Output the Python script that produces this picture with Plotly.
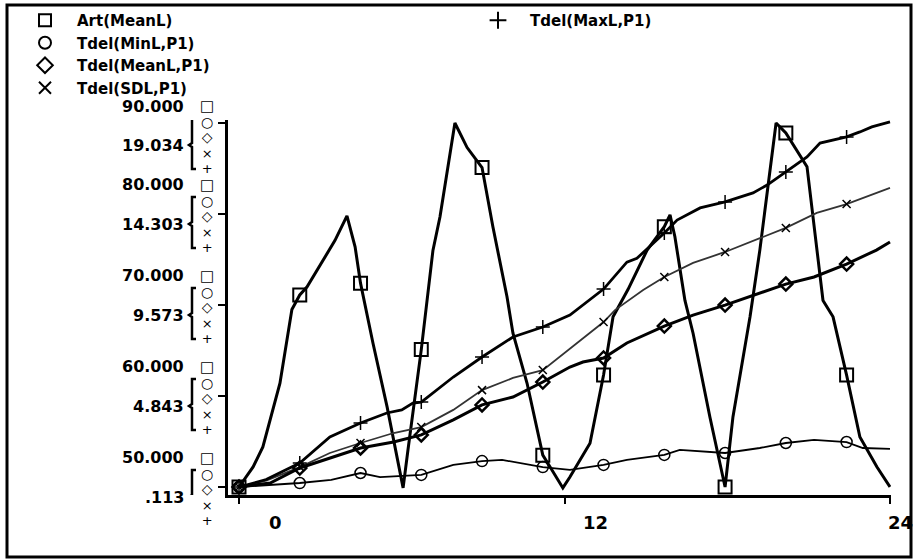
import plotly.graph_objects as go

# ---------------- data ----------------
# Art(MeanL) - left scale 50..90
ART_X = [0, 0.52, 0.88, 1.51, 1.95, 2.24, 2.51, 3.54, 3.98, 4.28, 4.48, 4.94, 5.46, 6.05, 6.23, 6.72,
         7.15, 7.41, 7.96, 8.41, 8.96, 9.36, 9.88, 10.1, 10.62, 11.2, 11.47, 11.94, 12.2, 12.94, 13.44,
         13.57, 13.79, 14.34, 15.04, 15.68, 15.89, 16.07, 16.44, 16.74, 17.36, 17.92, 18.21, 18.84, 19.2,
         19.8, 20.16, 20.94, 21.16, 21.53, 21.9, 22.4, 22.89, 23.52, 24.0]
ART_Y = [50.0, 52.2, 54.4, 61.4, 69.5, 71.1, 72.0, 77.1, 79.8, 76.4, 72.4, 65.8, 58.8, 49.9, 54.1, 65.1,
         76.0, 79.7, 90.0, 87.3, 85.1, 78.6, 70.9, 66.9, 61.4, 53.5, 52.2, 49.9, 51.1, 54.8, 62.3,
         64.7, 68.7, 71.7, 76.0, 78.6, 79.9, 77.5, 70.5, 66.9, 57.7, 50.0, 57.7, 68.7, 76.0,
         90.0, 88.9, 85.2, 79.7, 70.5, 68.7, 62.3, 55.5, 52.2, 50.0]

# Tdel series - bracketed scale .113..19.034
MIN_X = [0, 1.0, 2.24, 3.4, 4.48, 5.2, 6.72, 7.9, 8.96, 9.7, 11.2, 12.2, 13.44, 14.3, 15.68, 16.25,
         17.92, 19.2, 20.16, 21.2, 22.4, 23.0, 24.0]
MIN_Y = [0.113, 0.2, 0.32, 0.48, 0.84, 0.63, 0.74, 1.26, 1.46, 1.52, 1.15, 1.0, 1.26, 1.52, 1.78, 2.04,
         1.88, 2.14, 2.40, 2.56, 2.45, 2.14, 2.09]

MEAN_X = [0, 1.15, 2.24, 3.4, 4.48, 5.7, 6.72, 7.9, 8.96, 10.1, 11.2, 12.2, 12.68, 13.44, 14.3, 15.68,
          16.74, 17.92, 19.2, 20.16, 21.2, 22.4, 23.5, 24.0]
MEAN_Y = [0.113, 0.32, 1.10, 1.62, 2.14, 2.45, 2.82, 3.60, 4.38, 4.79, 5.57, 6.35, 6.61, 6.82, 7.60, 8.48,
          9.05, 9.57, 10.2, 10.66, 11.03, 11.7, 12.43, 12.85]

SDL_X = [0, 1.0, 2.24, 3.35, 4.48, 5.7, 6.72, 7.9, 8.96, 10.1, 11.2, 11.83, 12.57, 13.44, 13.86, 14.9,
         15.68, 16.74, 17.92, 19.2, 20.16, 21.3, 22.4, 24.0]
SDL_Y = [0.113, 0.45, 1.15, 1.88, 2.40, 2.92, 3.23, 4.12, 5.15, 5.78, 6.19, 6.9, 7.7, 8.69, 9.31, 10.35,
         11.03, 11.76, 12.33, 13.06, 13.58, 14.36, 14.82, 15.66]

MAX_X = [0, 1.0, 2.24, 3.35, 4.48, 5.45, 6.0, 6.41, 6.72, 7.9, 8.96, 10.1, 11.2, 12.2, 13.44, 14.3, 14.67,
         15.68, 16.15, 17.0, 17.92, 18.95, 19.47, 20.16, 20.94, 21.42, 22.4, 22.89, 23.33, 24.0]
MAX_Y = [0.113, 0.5, 1.36, 2.71, 3.44, 3.96, 4.12, 4.48, 4.53, 5.83, 6.87, 7.91, 8.43, 9.05, 10.4, 11.8, 12.0,
         13.32, 13.99, 14.62, 14.93, 15.40, 15.81, 16.49, 17.27, 17.99, 18.31, 18.57, 18.83, 19.09]

# marker positions (every plotted symbol)
MK_X = [0, 2.24, 4.48, 6.72, 8.96, 11.2, 13.44, 15.68, 17.92, 20.16, 22.4]
ART_MK = [50.0, 71.1, 72.4, 65.1, 85.1, 53.5, 62.3, 78.6, 50.0, 88.9, 62.3]
MIN_MK = [0.113, 0.32, 0.84, 0.74, 1.46, 1.15, 1.26, 1.78, 1.88, 2.40, 2.45]
MEAN_MK = [0.113, 1.10, 2.14, 2.82, 4.38, 5.57, 6.82, 8.48, 9.57, 10.66, 11.7]
SDL_MK = [0.113, 1.15, 2.40, 3.23, 5.15, 6.19, 8.69, 11.03, 12.33, 13.58, 14.82]
MAX_MK = [0.113, 1.36, 3.44, 4.53, 6.87, 8.43, 10.4, 13.32, 14.93, 16.49, 18.31]

# axis labels
XTICK_VALS = [0, 12, 24]
XTICK_TEXT = ["0", "12", "24"]
ART_TICKS = [50, 60, 70, 80, 90]
ART_LABELS = ["50.000", "60.000", "70.000", "80.000", "90.000"]
TDEL_TICKS = [0.113, 4.843, 9.573, 14.303, 19.034]
TDEL_LABELS = [".113", "4.843", "9.573", "14.303", "19.034"]
SCALE_SYMBOLS = ["□", "○", "◇", "×", "+"]

# ---------------- figure ----------------
FONT = "DejaVu Sans"
BLACK = "#000000"

fig = go.Figure()

def line(x, y, axis, width, color=BLACK):
    fig.add_trace(go.Scatter(x=x, y=y, yaxis=axis, mode="lines", showlegend=False,
                             hoverinfo="skip", line=dict(color=color, width=width)))

def marks(x, y, axis, name, symbol, size, lw, legend):
    fig.add_trace(go.Scatter(x=x, y=y, yaxis=axis, mode="markers", name=name, legend=legend,
                             cliponaxis=False,
                             marker=dict(symbol=symbol, size=size, color=BLACK,
                                         line=dict(color=BLACK, width=lw))))

line(MIN_X, MIN_Y, "y2", 1.8)
line(SDL_X, SDL_Y, "y2", 1.8, "#333333")
line(MEAN_X, MEAN_Y, "y2", 3)
line(MAX_X, MAX_Y, "y2", 2.8)
line(ART_X, ART_Y, "y", 3)

marks(MK_X, ART_MK, "y", "Art(MeanL)", "square-open", 13, 2, "legend")
marks(MK_X, MIN_MK, "y2", "Tdel(MinL,P1)", "circle-open", 11, 1.5, "legend")
marks(MK_X, MEAN_MK, "y2", "Tdel(MeanL,P1)", "diamond-open", 10, 2.5, "legend")
marks(MK_X, SDL_MK, "y2", "Tdel(SDL,P1)", "x-thin-open", 8, 1.5, "legend")
marks(MK_X, MAX_MK, "y2", "Tdel(MaxL,P1)", "cross-thin-open", 10, 1.5, "legend2")

# geometry (pixels): plot area 228..891 x 120..495
L, R, T, B = 228, 24, 120, 65
W, H = 915, 560
PW, PH = W - L - R, H - T - B
X0PX, XUNIT = 239, 27.125          # x=0 at px 239
ART_PX50, ART_UNIT = 487, 9.1      # art 50 at px 487
TD_UNIT = (TDEL_TICKS[-1] - TDEL_TICKS[0]) / (ART_UNIT * (ART_TICKS[-1] - ART_TICKS[0]))

x_lo = -(X0PX - L) / XUNIT
x_hi = x_lo + PW / XUNIT
y_lo = ART_TICKS[0] - (H - B - ART_PX50) / ART_UNIT
y_hi = y_lo + PH / ART_UNIT
y2_lo = TDEL_TICKS[0] - (H - B - ART_PX50) * TD_UNIT
y2_hi = y2_lo + PH * TD_UNIT

annotations = []
shapes = []
# x tick labels (printed to the right of the ticks)
XTICK_SHIFT = [36, 31, 10]
for v, t, s in zip(XTICK_VALS, XTICK_TEXT, XTICK_SHIFT):
    annotations.append(dict(x=v, xref="x", y=0, yref="paper", text=t, showarrow=False,
                            xanchor="center", yanchor="middle", xshift=s, yshift=-27,
                            font=dict(family=FONT, size=18, color=BLACK, weight="bold")))

# stacked left-axis labels: Art value + square, then bracket with the Tdel value
sym_text = "<br>".join([
    f"<span style='font-size:15px'>{SCALE_SYMBOLS[0]}</span>",
    f"<span style='font-size:14px'>{SCALE_SYMBOLS[1]}</span>",
    f"<span style='font-size:14px'><b>{SCALE_SYMBOLS[2]}</b></span>",
    f"<span style='font-size:13px'>{SCALE_SYMBOLS[3]}</span>",
    f"<span style='font-size:13px'>{SCALE_SYMBOLS[4]}</span>",
])
for i, (av, al, tl) in enumerate(zip(ART_TICKS, ART_LABELS, TDEL_LABELS)):
    top = (i == len(ART_TICKS) - 1)
    art_off = 17 if top else 30
    blk = -12 if top else 0
    nf = dict(family=FONT, size=16, color=BLACK, weight="bold")
    annotations.append(dict(x=0, xref="paper", y=av, yref="y", text=al, showarrow=False,
                            xanchor="right", yanchor="middle", xshift=-42, yshift=art_off, font=nf))
    annotations.append(dict(x=0, xref="paper", y=av, yref="y", text=tl, showarrow=False,
                            xanchor="right", yanchor="middle", xshift=-42, yshift=-10 + blk, font=nf))
    annotations.append(dict(x=0, xref="paper", y=av, yref="y", text=sym_text, showarrow=False,
                            xanchor="center", yanchor="middle", xshift=-21, yshift=-1.5 + blk,
                            font=dict(family=FONT, size=12, color=BLACK)))
    t0, b0, m0 = 17 + blk, -34 + blk, -10 + blk
    shapes.append(dict(type="path", xref="paper", yref="y", xsizemode="pixel", ysizemode="pixel",
                       xanchor=0, yanchor=av,
                       path=f"M -32,{t0} L -36,{t0} L -36,{m0+2} L -39,{m0} L -36,{m0-2} L -36,{b0} L -32,{b0}",
                       line=dict(color=BLACK, width=2.5)))

# outer frame
def px_to_paper_x(p):
    return (p - L) / PW

def px_to_paper_y(p):
    return (H - B - p) / PH

shapes.append(dict(type="rect", xref="paper", yref="paper",
                   x0=px_to_paper_x(7), x1=px_to_paper_x(911),
                   y0=px_to_paper_y(557), y1=px_to_paper_y(5),
                   line=dict(color=BLACK, width=3), fillcolor="rgba(0,0,0,0)", layer="below"))

LEG_FONT = dict(family=FONT, size=15, color=BLACK, weight="bold")
fig.update_layout(
    width=W, height=H, margin=dict(l=L, r=R, t=T, b=B, pad=0, autoexpand=False),
    paper_bgcolor="white", plot_bgcolor="white",
    font=dict(family=FONT, color=BLACK),
    xaxis=dict(range=[x_lo, x_hi], showgrid=False, zeroline=False, showline=True, linecolor=BLACK,
               linewidth=3, ticks="outside", tickvals=XTICK_VALS, ticklen=6, tickwidth=2,
               tickcolor=BLACK, showticklabels=False, fixedrange=True),
    yaxis=dict(range=[y_lo, y_hi], showgrid=False, zeroline=False, showline=True, linecolor=BLACK,
               linewidth=3, ticks="outside", tickvals=ART_TICKS, ticklen=7, tickwidth=2,
               tickcolor=BLACK, showticklabels=False, fixedrange=True),
    yaxis2=dict(range=[y2_lo, y2_hi], overlaying="y", visible=False, fixedrange=True),
    legend=dict(x=px_to_paper_x(13), y=px_to_paper_y(4), xanchor="left", yanchor="top",
                bgcolor="rgba(0,0,0,0)", borderwidth=0, itemsizing="constant", itemwidth=54,
                font=LEG_FONT, tracegroupgap=0),
    legend2=dict(x=px_to_paper_x(466), y=px_to_paper_y(4), xanchor="left", yanchor="top",
                 bgcolor="rgba(0,0,0,0)", borderwidth=0, itemsizing="constant", itemwidth=54,
                 font=LEG_FONT),
    annotations=annotations, shapes=shapes,
)

fig.write_html("out.html")
